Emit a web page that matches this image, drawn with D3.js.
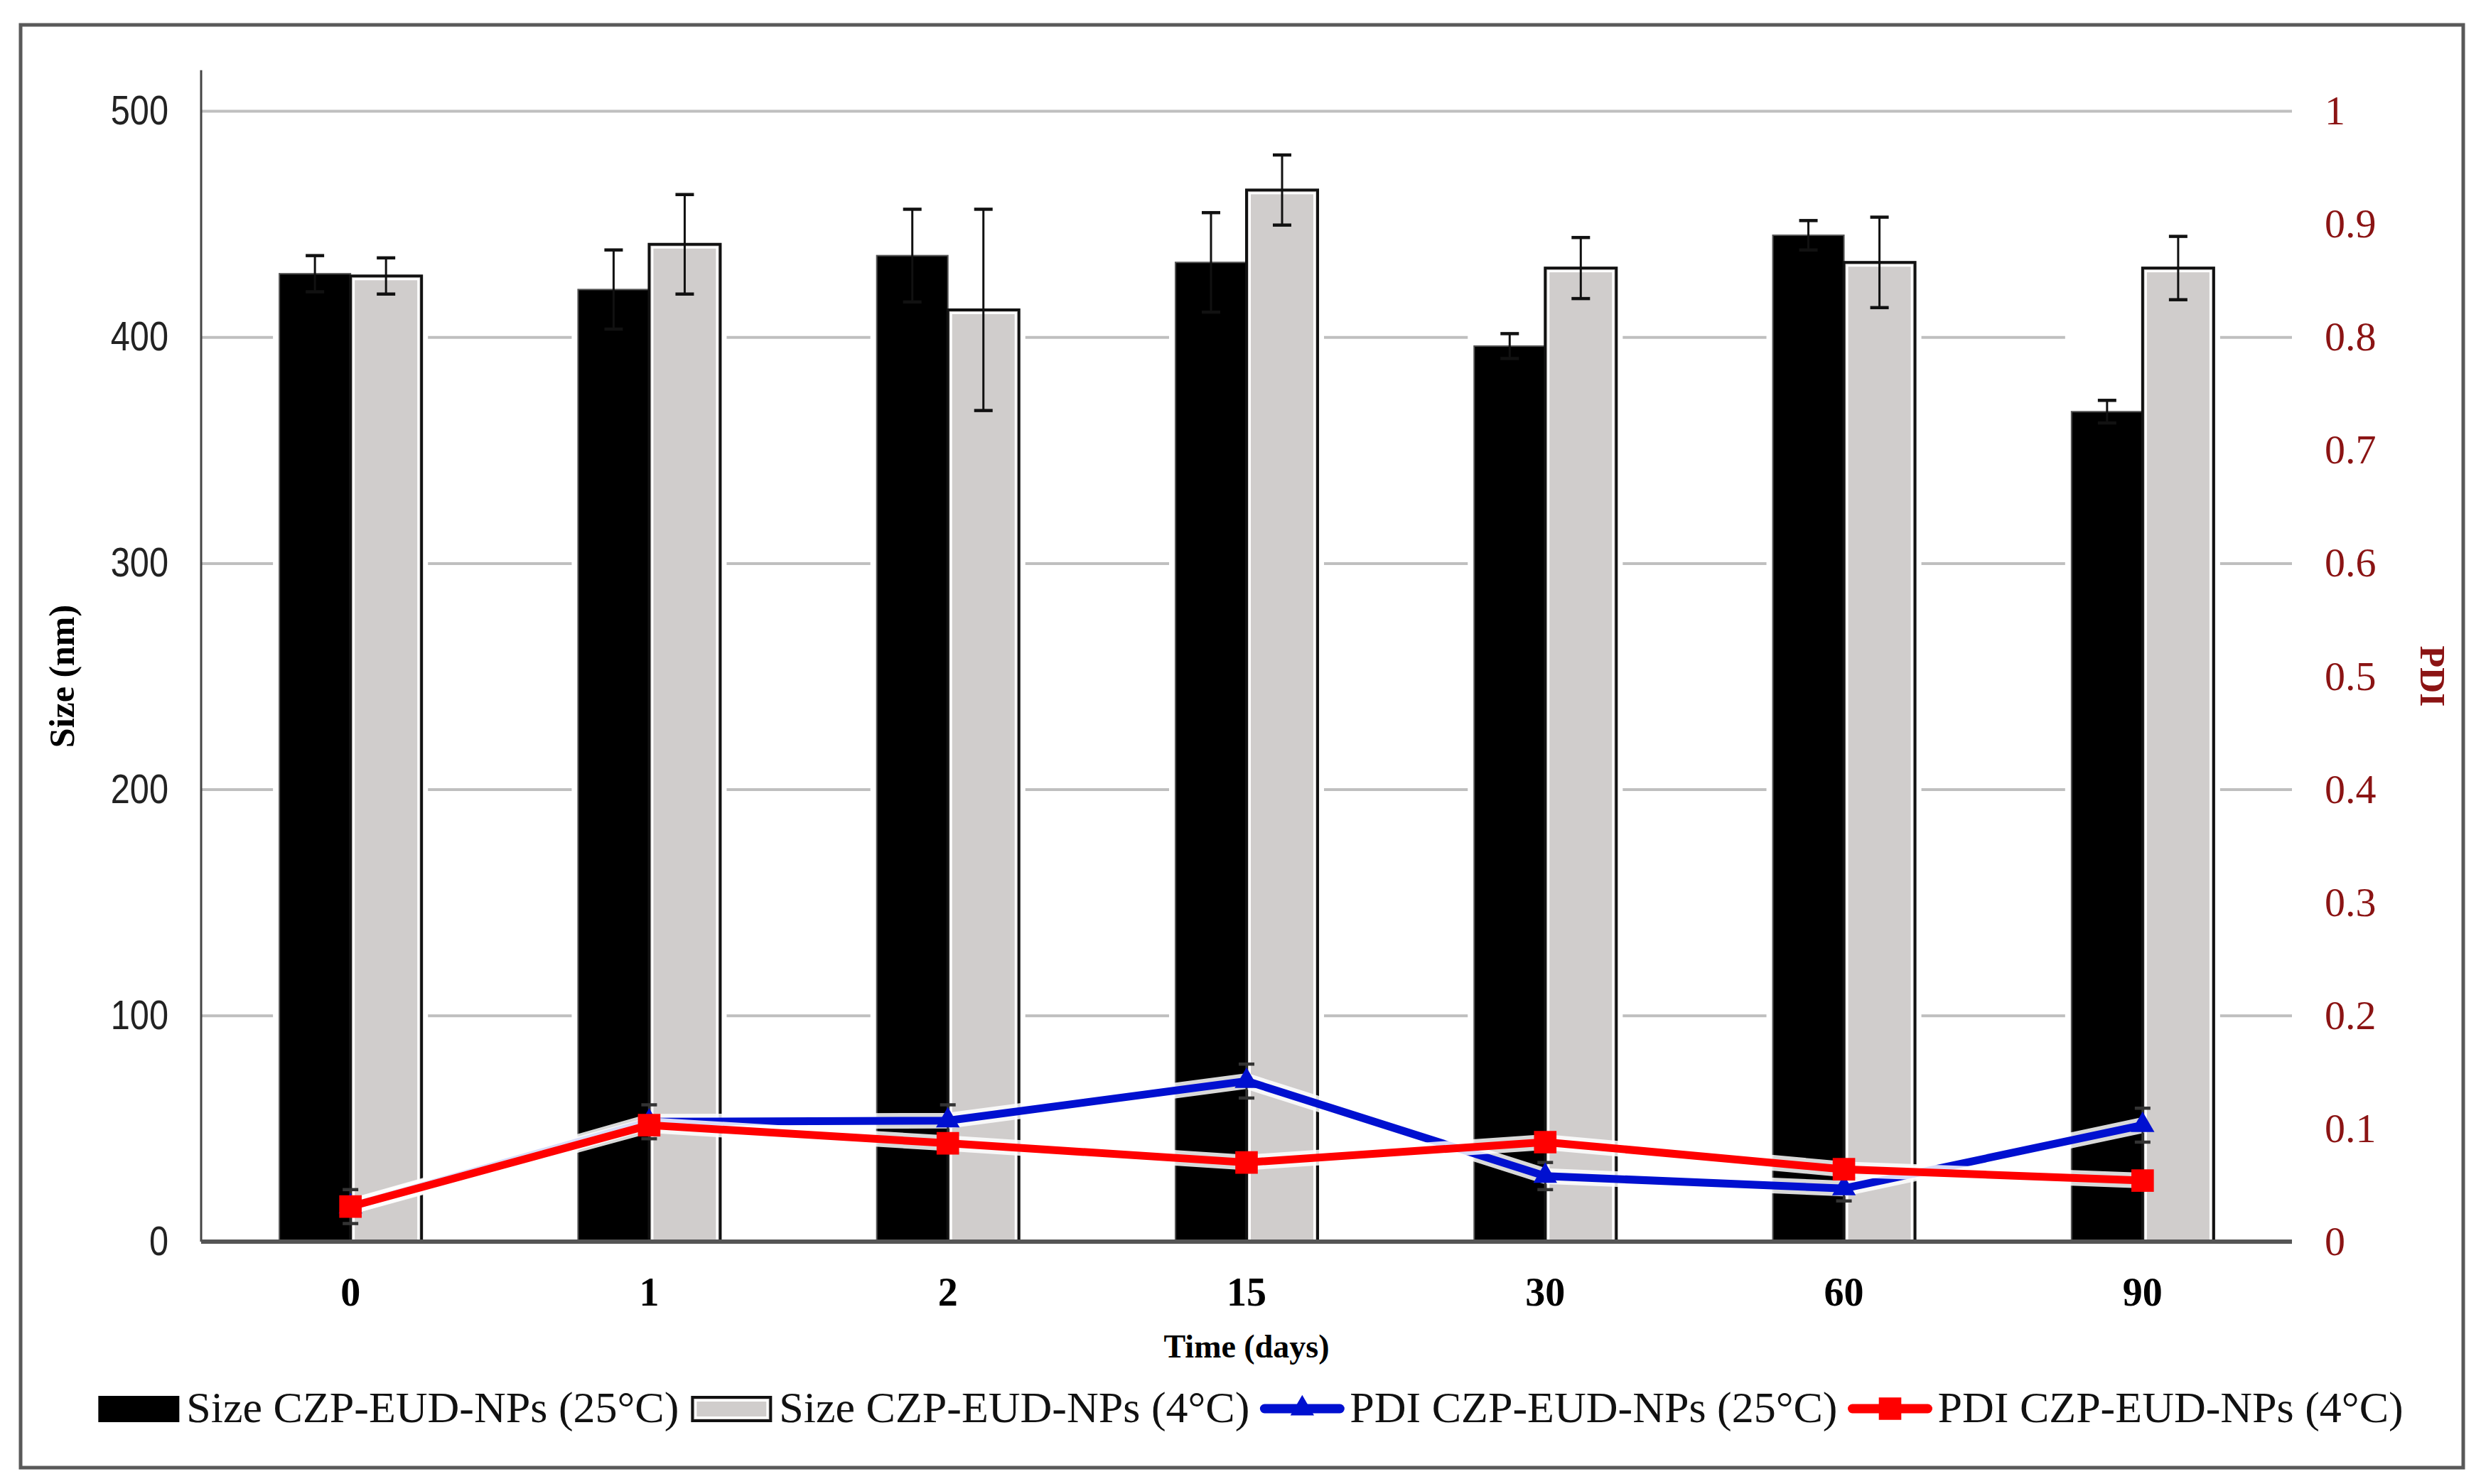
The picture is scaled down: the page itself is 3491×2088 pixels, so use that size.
<!DOCTYPE html>
<html>
<head>
<meta charset="utf-8">
<script src="https://cdn.jsdelivr.net/npm/d3@7"></script>
<style>
  body { margin: 0; background: #fff; }
  svg { display: block; }
</style>
</head>
<body>
<svg id="chart" width="3491" height="2088"></svg>
<script>
const categories = ["0", "1", "2", "15", "30", "60", "90"];

const size25 = [428, 421, 436, 433, 396, 445, 367];
const size25Err = [8, 17.5, 20.5, 22, 5.5, 6.5, 5];
const size4 = [427, 441, 412, 465, 430.5, 433, 430.5];
const size4Err = [8, 22, 44.5, 15.5, 13.5, 20, 14];

const pdi25 = [0.031, 0.106, 0.107, 0.142, 0.058, 0.047, 0.103];
const pdi25Err = [0.015, 0.015, 0.014, 0.015, 0.012, 0.011, 0.015];
const pdi4 = [0.031, 0.103, 0.087, 0.070, 0.088, 0.064, 0.054];
const pdi4Err = [0.006, 0.006, 0.005, 0.005, 0.005, 0.005, 0.004];

const sizeTicks = [0, 100, 200, 300, 400, 500];
const pdiTicks = [0, 0.1, 0.2, 0.3, 0.4, 0.5, 0.6, 0.7, 0.8, 0.9, 1];

const legendLabels = [
  "Size CZP-EUD-NPs (25°C)",
  "Size CZP-EUD-NPs (4°C)",
  "PDI CZP-EUD-NPs (25°C)",
  "PDI CZP-EUD-NPs (4°C)"
];

const serif = "'Liberation Serif', 'Times New Roman', serif";
const sans = "'Liberation Sans', 'Open Sans', sans-serif";
const darkRed = "#8b1414";
const gray = "#d0cdcc";
const blue = "#0010d0";
const red = "#ff0000";

var svg = d3.select("#chart");
svg.append("rect").attr("width", 3491).attr("height", 2088).attr("fill", "#fff");

// outer frame
svg.append("rect")
  .attr("x", 29).attr("y", 35).attr("width", 3437).attr("height", 2030)
  .attr("fill", "none").attr("stroke", "#595959").attr("stroke-width", 5);

var margin = {left: 283, right: 3225, top: 156, bottom: 1747};

var x = d3.scaleBand()
  .domain(categories)
  .range([margin.left, margin.right]);

var y = d3.scaleLinear().domain([0, 500]).range([margin.bottom, margin.top]);
var yP = d3.scaleLinear().domain([0, 1]).range([margin.bottom, margin.top]);

var groupW = x.bandwidth() * 0.476;
var x1 = d3.scaleBand().domain(["25", "4"]).range([0, groupW]);
var barX = (c, s) => x(c) + (x.bandwidth() - groupW) / 2 + x1(s);
var cx = c => x(c) + x.bandwidth() / 2;

// gridlines
svg.append("g")
  .attr("transform", "translate(" + margin.left + ",0)")
  .call(d3.axisLeft(y).tickValues(sizeTicks.slice(1)).tickSize(-(margin.right - margin.left)).tickFormat(""))
  .call(g => g.select(".domain").remove())
  .selectAll("line").attr("stroke", "#bfbfbf").attr("stroke-width", 4);

// left tick labels (narrow sans)
svg.append("g")
  .attr("transform", "translate(" + (margin.left - 46) + ",0)")
  .call(d3.axisLeft(y).tickValues(sizeTicks).tickSize(0).tickPadding(0))
  .call(g => g.select(".domain").remove())
  .selectAll("text")
  .attr("font-family", sans).attr("font-size", 58).attr("fill", "#222")
  .attr("transform", "scale(0.84,1)");

// right tick labels
svg.append("g")
  .attr("transform", "translate(" + (margin.right + 46) + ",0)")
  .call(d3.axisRight(yP).tickValues(pdiTicks).tickSize(0).tickPadding(0).tickFormat(d3.format("~g")))
  .call(g => g.select(".domain").remove())
  .selectAll("text")
  .attr("font-family", serif).attr("font-size", 58).attr("fill", darkRed);

// bars
var bars = svg.append("g");
categories.forEach((c, i) => {
  // white halo behind pair
  bars.append("rect")
    .attr("x", barX(c, "25") - 9).attr("y", Math.min(y(size25[i]), y(size4[i])) - 9)
    .attr("width", groupW + 18).attr("height", margin.bottom - Math.min(y(size25[i]), y(size4[i])) + 6)
    .attr("fill", "#fff");
  bars.append("rect")
    .attr("x", barX(c, "25")).attr("y", y(size25[i]))
    .attr("width", x1.bandwidth()).attr("height", y(0) - y(size25[i]))
    .attr("fill", "#000").attr("stroke", "#555").attr("stroke-width", 2);
  bars.append("rect")
    .attr("x", barX(c, "4")).attr("y", y(size4[i]))
    .attr("width", x1.bandwidth()).attr("height", y(0) - y(size4[i]))
    .attr("fill", gray).attr("stroke", "#111").attr("stroke-width", 4);
  bars.append("rect")
    .attr("x", barX(c, "4") + 4.5).attr("y", y(size4[i]) + 4.5)
    .attr("width", x1.bandwidth() - 9).attr("height", y(0) - y(size4[i]) - 6)
    .attr("fill", "none").attr("stroke", "#fff").attr("stroke-width", 3);
});

// error bars helper
function errBar(g, xc, yTop, yBot, cap, color, w) {
  g.append("line").attr("x1", xc).attr("x2", xc).attr("y1", yTop).attr("y2", yBot)
    .attr("stroke", color).attr("stroke-width", w);
  [yTop, yBot].forEach(v => {
    g.append("line").attr("x1", xc - cap / 2).attr("x2", xc + cap / 2).attr("y1", v).attr("y2", v)
      .attr("stroke", color).attr("stroke-width", w + 1.5);
  });
}

var errs = svg.append("g");
categories.forEach((c, i) => {
  var bx = barX(c, "25") + x1.bandwidth() / 2;
  errBar(errs, bx, y(size25[i] + size25Err[i]), y(size25[i] - size25Err[i]), 26, "#111", 3);
  var gx = barX(c, "4") + x1.bandwidth() / 2;
  errBar(errs, gx, y(size4[i] + size4Err[i]), y(size4[i] - size4Err[i]), 26, "#111", 3);
});

// axes lines
svg.append("line")
  .attr("x1", margin.left).attr("x2", margin.left)
  .attr("y1", y(518)).attr("y2", y(0))
  .attr("stroke", "#444").attr("stroke-width", 3);
svg.append("line")
  .attr("x1", margin.left).attr("x2", margin.right)
  .attr("y1", y(0)).attr("y2", y(0))
  .attr("stroke", "#555").attr("stroke-width", 6);

// x tick labels
svg.append("g")
  .attr("transform", "translate(0," + (margin.bottom + 50) + ")")
  .call(d3.axisBottom(x).tickSize(0).tickPadding(0))
  .call(g => g.select(".domain").remove())
  .selectAll("text")
  .attr("font-family", serif).attr("font-size", 56).attr("font-weight", "bold").attr("fill", "#000");

// PDI lines
function pdiSeries(vals, errsArr, color, symbol, symSize) {
  var pts = categories.map((c, i) => ({c: c, v: vals[i], e: errsArr[i]}));
  var line = d3.line().x(d => cx(d.c)).y(d => yP(d.v));
  var g = svg.append("g");
  g.append("path").datum(pts).attr("d", line)
    .attr("fill", "none").attr("stroke", "#fff").attr("stroke-opacity", 0.85)
    .attr("stroke-width", 22).attr("stroke-linejoin", "round");
  g.append("path").datum(pts).attr("d", line)
    .attr("fill", "none").attr("stroke", color)
    .attr("stroke-width", 11).attr("stroke-linejoin", "round").attr("stroke-linecap", "round");
  pts.forEach(d => errBar(g, cx(d.c), yP(d.v + d.e), yP(d.v - d.e), 22, "#333", 3));
  g.selectAll("path.mk").data(pts).join("path")
    .attr("class", "mk")
    .attr("transform", d => "translate(" + cx(d.c) + "," + yP(d.v) + ")")
    .attr("d", d3.symbol().type(symbol).size(symSize))
    .attr("fill", color);
}
pdiSeries(pdi25, pdi25Err, blue, d3.symbolTriangle, 480);
pdiSeries(pdi4, pdi4Err, red, d3.symbolSquare, 1000);

// axis titles
svg.append("text")
  .attr("transform", "translate(104," + ((margin.top + margin.bottom) / 2) + ") rotate(-90)")
  .attr("text-anchor", "middle")
  .attr("font-family", serif).attr("font-size", 50).attr("font-weight", "bold")
  .text("Size (nm)");
svg.append("text")
  .attr("transform", "translate(3406," + ((margin.top + margin.bottom) / 2) + ") rotate(90)")
  .attr("text-anchor", "middle")
  .attr("font-family", serif).attr("font-size", 50).attr("font-weight", "bold")
  .attr("fill", darkRed)
  .text("PDI");
svg.append("text")
  .attr("x", (margin.left + margin.right) / 2).attr("y", 1910)
  .attr("text-anchor", "middle")
  .attr("font-family", serif).attr("font-size", 46).attr("font-weight", "bold")
  .text("Time (days)");

// legend
var legend = svg.append("g");
var swW = 114, swGap = 10, itemGap = 17, legY = 1982;
var items = legendLabels.map(t => {
  var g = legend.append("g");
  var txt = g.append("text").attr("x", swW + swGap).attr("y", legY + 19)
    .attr("font-family", serif).attr("font-size", 62).attr("fill", "#111").text(t);
  return {g: g, w: swW + swGap + txt.node().getComputedTextLength()};
});
var total = d3.sum(items, d => d.w) + itemGap * (items.length - 1);
var lx = 1760 - total / 2;
items.forEach((it, i) => {
  it.g.attr("transform", "translate(" + lx + ",0)");
  lx += it.w + itemGap;
});
items[0].g.append("rect").attr("x", 0).attr("y", legY - 18).attr("width", swW).attr("height", 37).attr("fill", "#000");
items[1].g.append("rect").attr("x", 2).attr("y", legY - 16).attr("width", swW - 4).attr("height", 33)
  .attr("fill", gray).attr("stroke", "#111").attr("stroke-width", 4);
items[1].g.append("rect").attr("x", 6.5).attr("y", legY - 11.5).attr("width", swW - 13).attr("height", 24)
  .attr("fill", "none").attr("stroke", "#fff").attr("stroke-width", 3);
[[2, blue, d3.symbolTriangle, 480], [3, red, d3.symbolSquare, 1000]].forEach(([k, col, sym, sz]) => {
  items[k].g.append("line").attr("x1", 4).attr("x2", swW - 4).attr("y1", legY).attr("y2", legY)
    .attr("stroke", col).attr("stroke-width", 13).attr("stroke-linecap", "round");
  items[k].g.append("path").attr("transform", "translate(" + (swW / 2) + "," + legY + ")")
    .attr("d", d3.symbol().type(sym).size(sz)).attr("fill", col);
});
</script>
</body>
</html>
